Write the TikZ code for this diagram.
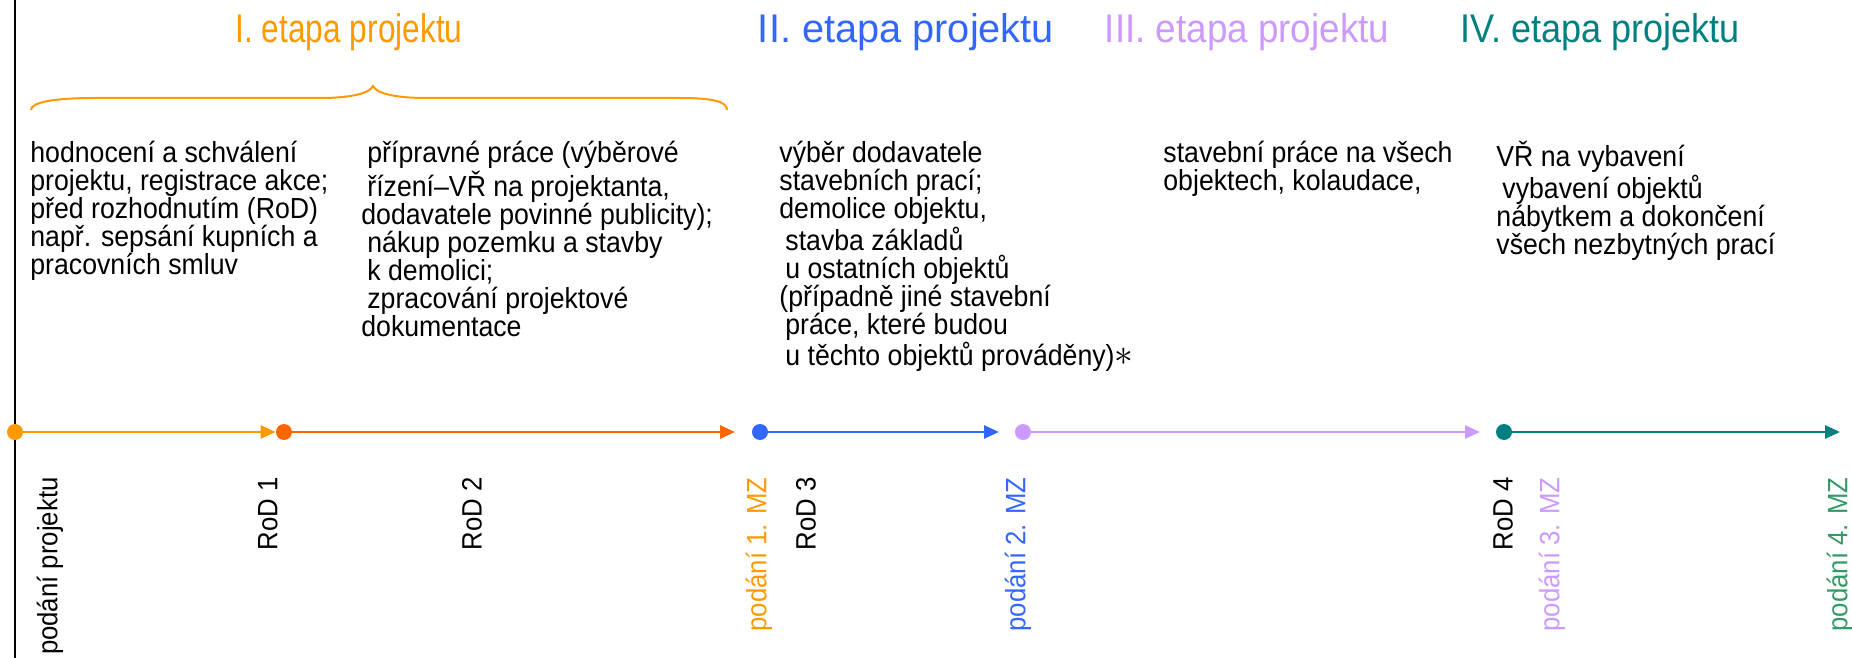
\documentclass[tikz,border=0pt]{standalone}
\usepackage{fontspec}
\setmainfont[FakeStretch=0.92]{Liberation Sans}
\usepackage{tikz}
\usetikzlibrary{shapes,arrows,arrows.meta}

\definecolor{etapaI}{HTML}{FF9900}
\definecolor{rodII}{HTML}{FF6600}
\definecolor{etapaII}{HTML}{3366FF}
\definecolor{etapaIII}{HTML}{CC99FF}
\definecolor{etapaIV}{HTML}{008080}
\definecolor{mzIV}{HTML}{339966}
\newcommand{\odsad}{\hspace*{3pt}}

\begin{document}
\begin{tikzpicture}[x=0.5pt,y=-0.5pt,
    bod/.style={circle,fill=#1,inner sep=0pt,minimum size=8pt},
    osa/.style={line width=1.35pt,draw=#1,-{Triangle[length=7.5pt,width=6.5pt]}},
    etapa/.style={font=\fontsize{20}{24}\selectfont,text=#1,anchor=base,inner sep=0pt},
    popis/.style={font=\fontsize{14.5}{14}\selectfont,align=left,anchor=north west,inner sep=0pt},
    milnik/.style={font=\fontsize{14}{14}\selectfont,text=#1,rotate=90,anchor=east,inner sep=0pt}]
    \pgfmathsetmacro{\ty}{432}
    \pgfmathsetmacro{\ly}{477}
    \pgfmathsetmacro{\py}{141}
    \useasboundingbox (0,0) rectangle (1852,658);

    % Stage titles
    \node[etapa=etapaI] (tI) at (349,43) {\scalebox{0.86}[1]{I. etapa projektu}};
    \node[etapa=etapaII] (tII) at (906,43) {\scalebox{1.08}[1]{II. etapa projektu}};
    \node[etapa=etapaIII] (tIII) at (1247,43) {\scalebox{1}[1]{III. etapa projektu}};
    \node[etapa=etapaIV] (tIV) at (1600,43) {\scalebox{0.98}[1]{IV. etapa projektu}};

    % Brace over the first stage
    \draw[etapaI,line width=1pt] (31,110) .. controls (31,102) and (55,98) .. (95,98)
        -- (320,98) .. controls (352,98) and (370,93) .. (373,86)
        .. controls (376,93) and (394,98) .. (426,98)
        -- (680,98) .. controls (715,98) and (727,102) .. (727,110);

    % Descriptions of the works
    \node[popis] (p1) at (30,\py) {hodnocení a schválení\\projektu, registrace akce;\\před rozhodnutím (RoD)\\např. sepsání kupních a\\pracovních smluv};
    \node[popis] (p2) at (361,\py) {\odsad přípravné práce (výběrové\\\odsad řízení–VŘ na projektanta,\\dodavatele povinné publicity);\\\odsad nákup pozemku a stavby\\\odsad k demolici;\\\odsad zpracování projektové\\dokumentace};
    \node[popis] (p3) at (779,\py) {výběr dodavatele\\stavebních prací;\\demolice objektu,\\\odsad stavba základů\\\odsad u ostatních objektů\\(případně jiné stavební\\\odsad práce, které budou\\\odsad u těchto objektů prováděny)\scalebox{1.3}{$\ast$}};
    \node[popis] (p4) at (1163,\py) {stavební práce na všech\\objektech, kolaudace,};
    \node[popis] (p5) at (1496,\py) {VŘ na vybavení\\\odsad vybavení objektů\\nábytkem a dokončení\\všech nezbytných prací};

    % Left border
    \draw[line width=1pt] (15,0) -- (15,658);

    % Time line
    \node[bod=etapaI] (d0) at (15,\ty) {};
    \node[bod=rodII] (d1) at (284,\ty) {};
    \node[bod=etapaII] (d2) at (760,\ty) {};
    \node[bod=etapaIII] (d3) at (1023,\ty) {};
    \node[bod=etapaIV] (d4) at (1504,\ty) {};
    \coordinate (k1) at (735,\ty);
    \coordinate (k2) at (999,\ty);
    \coordinate (k3) at (1480,\ty);
    \coordinate (k4) at (1840,\ty);
    \draw[osa=etapaI] (d0) -- (d1);
    \draw[osa=rodII] (d1) -- (k1);
    \draw[osa=etapaII] (d2) -- (k2);
    \draw[osa=etapaIII] (d3) -- (k3);
    \draw[osa=etapaIV] (d4) -- (k4);

    % Milestones
    \node[milnik=black] (m0) at (50,\ly) {podání projektu};
    \node[milnik=black] (r1) at (268,\ly) {RoD 1};
    \node[milnik=black] (r2) at (472,\ly) {RoD 2};
    \node[milnik=etapaI] (m1) at (759,\ly) {podání 1. MZ};
    \node[milnik=black] (r3) at (806,\ly) {RoD 3};
    \node[milnik=etapaII] (m2) at (1018,\ly) {podání 2. MZ};
    \node[milnik=black] (r4) at (1503,\ly) {RoD 4};
    \node[milnik=etapaIII] (m3) at (1552,\ly) {podání 3. MZ};
    \node[milnik=mzIV] (m4) at (1840,\ly) {podání 4. MZ};
\end{tikzpicture}
\end{document}
